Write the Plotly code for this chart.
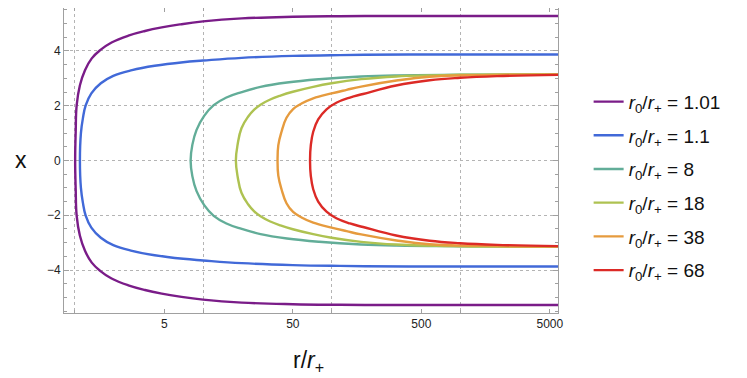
import math
import plotly.graph_objects as go

# turning points r0/r+ shown in the legend
r0_labels = ["1.01", "1.1", "8", "18", "38", "68"]
colors = ["#7a1c88", "#4169d8", "#62ad98", "#aec251", "#e69b3e", "#dc2a26"]

# upper branch of each curve (r/r+ , x)
r_101 = [1.01, 1.02, 1.038, 1.10, 1.205, 1.36, 1.58, 1.94, 2.62, 3.53, 4.77, 6.6, 10, 20, 50, 116, 400, 6000]
x_101 = [0, 1.05, 2.02, 2.75, 3.30, 3.73, 4.03, 4.31, 4.56, 4.73, 4.86, 4.97, 5.08, 5.19, 5.25, 5.27, 5.28, 5.28]

r_11 = [1.1, 1.12, 1.16, 1.22, 1.35, 1.60, 2.0, 2.8, 4.2, 7.0, 10, 20, 50, 116, 400, 6000]
x_11 = [0, 1.0, 1.54, 2.01, 2.45, 2.82, 3.09, 3.30, 3.46, 3.59, 3.65, 3.75, 3.82, 3.85, 3.87, 3.87]

r_8 = [8, 8.25, 8.9, 10.2, 12.1, 15.2, 20, 28, 45, 80, 170, 320, 1000, 6000]
x_8 = [0, 0.57, 1.12, 1.63, 2.02, 2.30, 2.50, 2.69, 2.85, 2.97, 3.07, 3.11, 3.13, 3.14]

r_18 = [18, 18.6, 19.9, 22.4, 25, 28, 33, 40, 50, 72, 100, 170, 320, 1000, 6000]
x_18 = [0, 0.6, 1.18, 1.60, 1.86, 2.04, 2.22, 2.37, 2.51, 2.69, 2.82, 2.97, 3.07, 3.13, 3.14]

r_38 = [38, 38.5, 40.8, 44.6, 50.2, 58.4, 72, 100, 131, 170, 320, 580, 1500, 6000]
x_38 = [0, 0.55, 1.05, 1.56, 1.88, 2.08, 2.27, 2.45, 2.58, 2.70, 2.92, 3.06, 3.12, 3.14]

r_68 = [68, 69, 72, 78.7, 91.4, 109, 139, 176, 318, 580, 1000, 1940, 6000]
x_68 = [0, 0.57, 1.05, 1.50, 1.87, 2.11, 2.30, 2.43, 2.74, 2.93, 3.02, 3.08, 3.13]

curves = [(r_101, x_101), (r_11, x_11), (r_8, x_8), (r_18, x_18), (r_38, x_38), (r_68, x_68)]


def both_branches(r, x):
    # lower branch is the mirror image of the upper one
    rr = r[::-1] + r[1:]
    xx = [-v for v in x[::-1]] + x[1:]
    return rr, xx


fig = go.Figure()
for i, (r, x) in enumerate(curves):
    rr, xx = both_branches(r, x)
    fig.add_trace(go.Scatter(x=rr, y=xx, mode="lines",
                             line=dict(color=colors[i], width=2.4, shape="spline",
                                       smoothing=1.2),
                             name="<i>r</i><sub>0</sub>/<i>r</i><sub>+</sub> = " + r0_labels[i],
                             legendgroup=str(i)))

frame = "#a0a0a0"
grid = "#b4b4b4"
# page body adds 8px around the figure, so the figure is 8px smaller
fig.update_layout(
    width=739, height=370,
    margin=dict(l=56, r=189, t=0, b=65),
    plot_bgcolor="white", paper_bgcolor="white",
    font=dict(family="Liberation Sans", size=12, color="#222"),
    showlegend=True,
    legend=dict(x=1.062, y=0.755, xanchor="left", yanchor="top",
                font=dict(size=19, color="#111"), tracegroupgap=6,
                itemwidth=30),
    xaxis=dict(type="log", range=[math.log10(0.827), math.log10(5790)],
               tickvals=[5, 50, 500, 5000], ticktext=["5", "50", "500", "5000"],
               ticks="inside", ticklen=4, tickcolor=frame,
               showline=True, linecolor=frame, linewidth=1, mirror="ticks",
               showgrid=False, zeroline=False,
               minor=dict(tickvals=[1, 10, 100, 1000], ticks="inside", ticklen=3,
                          tickcolor=frame, showgrid=True, griddash="dot",
                          gridcolor=grid, gridwidth=1)),
    yaxis=dict(range=[-5.57, 5.57], tickvals=[-4, -2, 0, 2, 4],
               ticks="inside", ticklen=5, tickcolor=frame,
               showline=True, linecolor=frame, linewidth=1, mirror="ticks",
               showgrid=True, griddash="dot", gridcolor=grid, gridwidth=1,
               zeroline=False,
               minor=dict(tick0=0, dtick=0.5, ticks="inside", ticklen=3,
                          tickcolor=frame, showgrid=False)),
    annotations=[
        dict(text="x", x=-0.087, y=0.502, xref="paper", yref="paper",
             xanchor="center", yanchor="middle",
             showarrow=False, font=dict(size=23, color="#111")),
        dict(text="r/<i>r</i><sub>+</sub>", x=0.494, y=-0.16, xref="paper", yref="paper",
             xanchor="center", yanchor="middle",
             showarrow=False, font=dict(size=23, color="#111")),
    ],
)

fig.write_html("out.html")
